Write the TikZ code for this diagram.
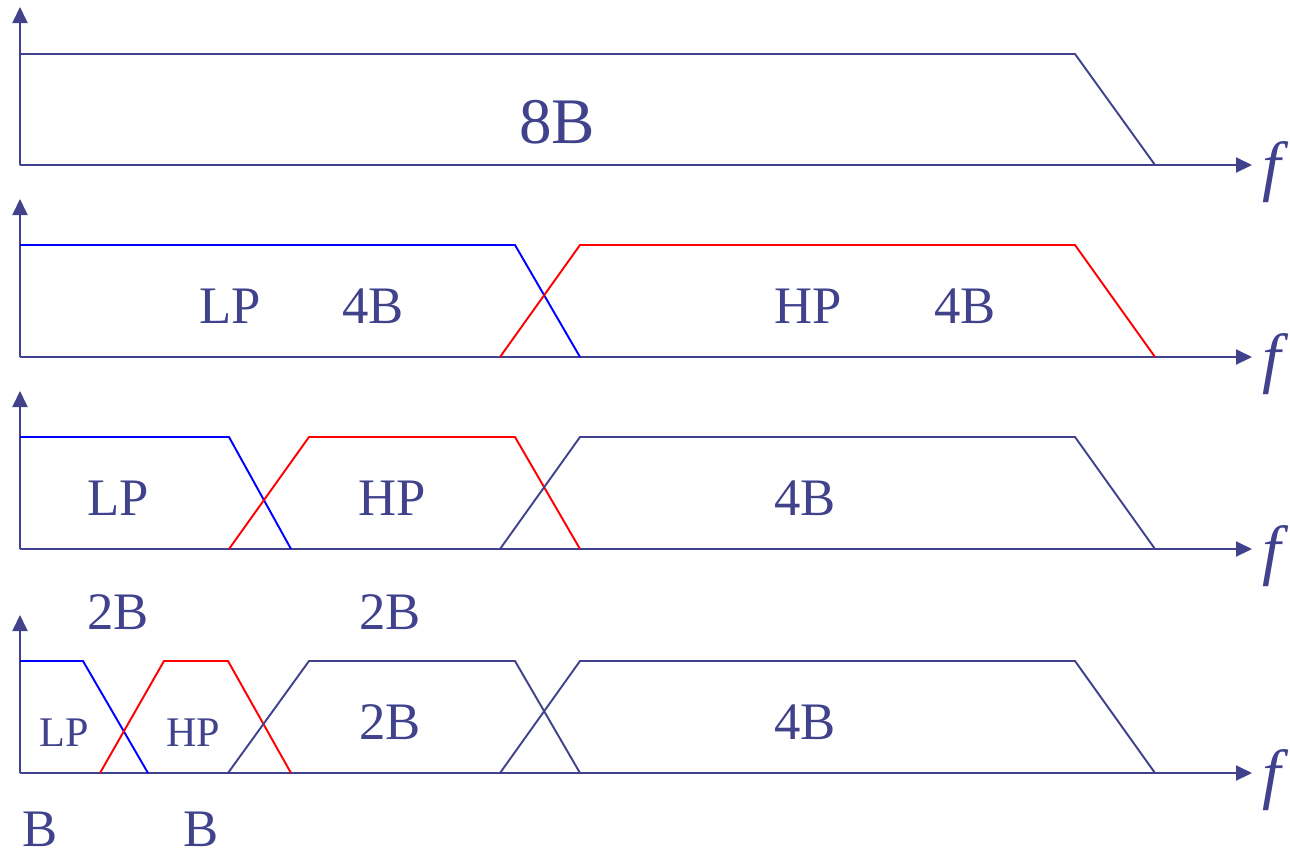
\documentclass[tikz,border=0pt]{standalone}
\usepackage{fontspec}
\setmainfont{Liberation Serif}
\usetikzlibrary{arrows.meta}
\definecolor{navyline}{RGB}{64,66,140}
\definecolor{lpblue}{RGB}{0,0,255}
\definecolor{hpred}{RGB}{255,0,0}
\begin{document}
\begin{tikzpicture}[x=0.02cm,y=-0.02cm,
  axis/.style={draw=navyline,line width=1.1pt,-{Triangle[length=0.32cm,width=0.3cm]}},
  band/.style={draw=navyline,line width=1.1pt},
  lowband/.style={draw=lpblue,line width=1.1pt},
  highband/.style={draw=hpred,line width=1.1pt},
  lbl/.style={text=navyline,anchor=base,inner sep=0pt,font=\fontsize{30}{32}\selectfont},
  biglbl/.style={lbl,font=\fontsize{37}{40}\selectfont},
  smalllbl/.style={lbl,font=\fontsize{24}{26}\selectfont},
  freq/.style={text=navyline,anchor=base west,inner sep=0pt,font=\fontsize{38}{40}\selectfont\itshape}]
  \useasboundingbox (0,0) rectangle (1290,856);
  % full band
  \coordinate (o1) at (20,165);
  \draw[axis] (o1) -- (20,7);
  \draw[axis] (o1) -- (1252,165);
  \draw[band] (o1) -- (20,54) -- (1075,54) -- (1155,165);
  \node[freq] (f1) at (1262,188) {f};
  \node[biglbl] (full) at (557,143) {8B};
  % first split
  \coordinate (o2) at (20,357);
  \draw[axis] (o2) -- (20,199);
  \draw[axis] (o2) -- (1252,357);
  \draw[lowband] (20,245) -- (515,245) -- (580,357);
  \draw[highband] (500,357) -- (580,245) -- (1075,245) -- (1155,357);
  \node[freq] (f2) at (1262,380) {f};
  \node[lbl] (lp2) at (230,323) {LP};
  \node[lbl] (lpw2) at (373,323) {4B};
  \node[lbl] (hp2) at (808,323) {HP};
  \node[lbl] (hpw2) at (965,323) {4B};
  % second split
  \coordinate (o3) at (20,549);
  \draw[axis] (o3) -- (20,391);
  \draw[axis] (o3) -- (1252,549);
  \draw[lowband] (20,437) -- (229,437) -- (291,549);
  \draw[highband] (229,549) -- (309,437) -- (515,437) -- (580,549);
  \draw[band] (500,549) -- (580,437) -- (1075,437) -- (1155,549);
  \node[freq] (f3) at (1262,572) {f};
  \node[lbl] (lp3) at (118,515) {LP};
  \node[lbl] (hp3) at (392,515) {HP};
  \node[lbl] (rest3) at (805,515) {4B};
  \node[lbl] (lpw3) at (118,629) {2B};
  \node[lbl] (hpw3) at (390,629) {2B};
  % third split
  \coordinate (o4) at (20,773);
  \draw[axis] (o4) -- (20,615);
  \draw[axis] (o4) -- (1252,773);
  \draw[lowband] (20,661) -- (83,661) -- (148,773);
  \draw[highband] (100,773) -- (164,661) -- (228,661) -- (291,773);
  \draw[band] (228,773) -- (309,661) -- (515,661) -- (580,773);
  \draw[band] (500,773) -- (580,661) -- (1075,661) -- (1155,773);
  \node[freq] (f4) at (1262,796) {f};
  \node[smalllbl] (lp4) at (64,746) {LP};
  \node[smalllbl] (hp4) at (193,746) {HP};
  \node[lbl] (mid4) at (390,739) {2B};
  \node[lbl] (rest4) at (805,739) {4B};
  \node[lbl] (lpw4) at (40,846) {B};
  \node[lbl] (hpw4) at (201,846) {B};
\end{tikzpicture}
\end{document}
